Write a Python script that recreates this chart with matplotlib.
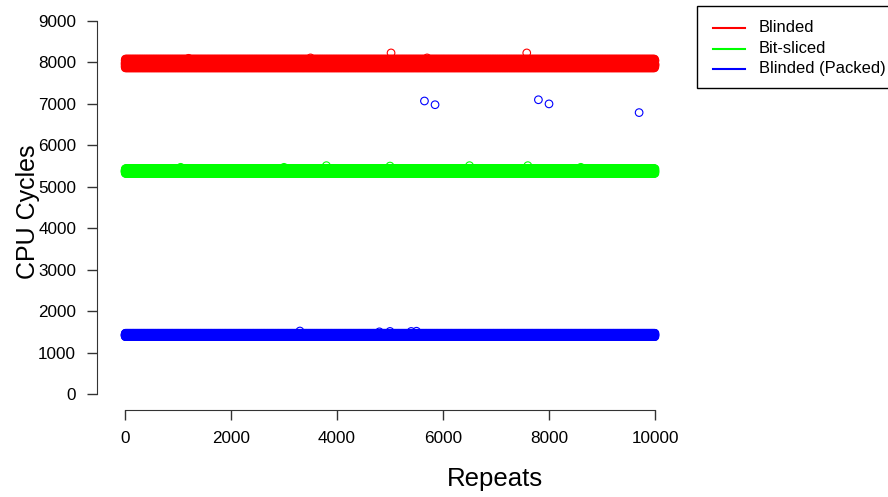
import numpy as np
import matplotlib
matplotlib.use("Agg")
import matplotlib.pyplot as plt
from matplotlib.patches import Rectangle
from matplotlib.lines import Line2D

plt.rcParams["font.family"] = ["Liberation Sans", "DejaVu Sans"]

# ---- data ----
n_repeats = 10000
series_names = ["Blinded", "Bit-sliced", "Blinded (Packed)"]
series_colors = ["#ff0000", "#00ff00", "#0000ff"]

# typical per-run cycle counts seen in each band, repeated over the runs
blinded_typical = [7975, 7900, 8050, 7940, 8010, 7870, 8080, 7960, 7995, 7920, 8035, 7950]
bitsliced_typical = [5380, 5350, 5410, 5365, 5395, 5325, 5435, 5370]
packed_typical = [1425, 1400, 1450, 1415, 1435, 1385, 1465, 1420]

# isolated runs that stick out of the bands
blinded_out_x = [5020, 7580, 3500, 5700, 1200]
blinded_out_y = [8230, 8230, 8110, 8110, 8100]
bitsliced_out_x = [3800, 5000, 6500, 7600, 1050, 3000, 8600]
bitsliced_out_y = [5510, 5500, 5510, 5510, 5470, 5470, 5470]
packed_out_x = [5650, 5850, 7800, 8000, 9700, 3300, 5000, 5400, 5500, 4800]
packed_out_y = [7070, 6980, 7100, 7000, 6790, 1520, 1510, 1510, 1515, 1500]

repeats = np.arange(1, n_repeats + 1)
bands = [np.resize(blinded_typical, n_repeats),
         np.resize(bitsliced_typical, n_repeats),
         np.resize(packed_typical, n_repeats)]
outliers = [(blinded_out_x, blinded_out_y),
            (bitsliced_out_x, bitsliced_out_y),
            (packed_out_x, packed_out_y)]

W, H = 888, 497
fig = plt.figure(figsize=(W / 100, H / 100), dpi=100)
# axes box in pixels: left 97, right 683, top 6, bottom 410
ax = fig.add_axes([97 / W, (H - 410) / H, 586 / W, 404 / H])
ax.set_xlim(-528, 10528)
ax.set_ylim(-386, 9362)

for vals, (ox, oy), c in zip(bands, outliers, series_colors):
    ax.scatter(repeats, vals, s=30, facecolors="none", edgecolors=c, linewidths=0.8)
    ax.scatter(ox, oy, s=30, facecolors="none", edgecolors=c, linewidths=0.8)

for s in ["top", "right"]:
    ax.spines[s].set_visible(False)
ax.spines["bottom"].set_bounds(0, 10000)
ax.spines["left"].set_bounds(0, 9000)
ax.spines["bottom"].set_color("#333333")
ax.spines["left"].set_color("#333333")
ax.set_xticks(range(0, 10001, 2000))
ax.set_yticks(range(0, 9001, 1000))
ax.tick_params(length=7, width=1, color="#333333", labelsize=12.3, pad=8)

fig.text(28 / W, 1 - 212 / H, "CPU Cycles", rotation=90, ha="center", va="center", fontsize=18)
fig.text(495 / W, 1 - 479 / H, "Repeats", ha="center", va="center", fontsize=18.5)

# legend box, outside the plot on the top right
fig.add_artist(Rectangle((697 / W, 1 - 88 / H), 200 / W, 82 / H, transform=fig.transFigure,
                         facecolor="white", edgecolor="black", linewidth=1, clip_on=False))
for i, (name, c) in enumerate(zip(series_names, series_colors)):
    yy = 1 - (28 + i * 20.5) / H
    fig.add_artist(Line2D([713 / W, 745 / W], [yy, yy], transform=fig.transFigure, color=c, lw=1.5))
    fig.text(759 / W, yy, name, ha="left", va="center", fontsize=11.9)

fig.savefig("out.png", dpi=100)
